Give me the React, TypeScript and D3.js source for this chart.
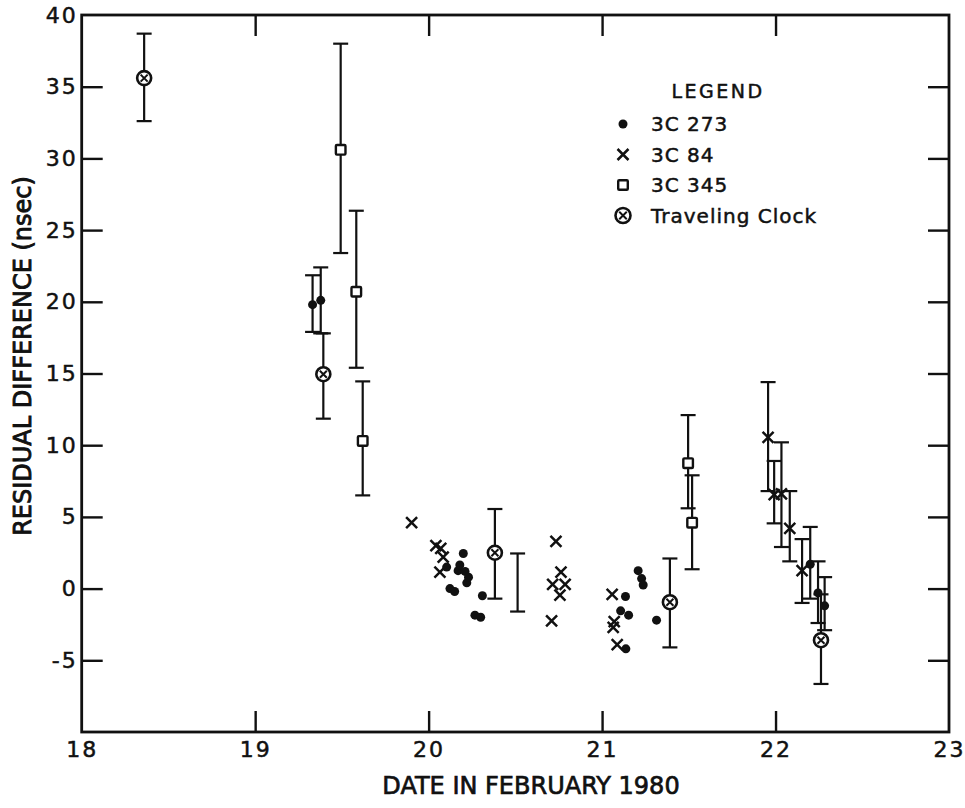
import React, { useEffect, useRef } from 'react';
import * as d3 from 'd3';

// [date, residual, lower error, upper error]  (null = no error bar)
type Obs = [number, number, number | null, number | null];

const src3C273: Obs[] = [
  [19.331, 19.8, 17.9, 21.85],
  [19.378, 20.1, 17.8, 22.4],
  [20.104, 1.5, null, null],
  [20.123, 0.0, null, null],
  [20.15, -0.2, null, null],
  [20.17, 1.25, null, null],
  [20.18, 1.65, null, null],
  [20.2, 2.45, null, null],
  [20.21, 1.2, null, null],
  [20.22, 0.4, null, null],
  [20.23, 0.8, null, null],
  [20.267, -1.85, null, null],
  [20.3, -2.0, null, null],
  [20.31, -0.5, null, null],
  [21.107, -1.55, null, null],
  [21.135, -0.55, null, null],
  [21.137, -4.2, null, null],
  [21.153, -1.85, null, null],
  [21.208, 1.25, null, null],
  [21.228, 0.7, null, null],
  [21.237, 0.25, null, null],
  [21.314, -2.2, null, null],
  [22.2, 1.7, -0.7, 4.3],
  [22.245, -0.3, -2.4, 1.9],
  [22.283, -1.2, -2.9, 0.8],
];

const src3C84: Obs[] = [
  [19.902, 4.6, null, null],
  [20.042, 3.0, null, null],
  [20.065, 1.15, null, null],
  [20.07, 2.8, null, null],
  [20.084, 2.2, null, null],
  [20.709, -2.25, null, null],
  [20.715, 0.3, null, null],
  [20.734, 3.3, null, null],
  [20.757, -0.45, null, null],
  [20.763, 1.15, null, null],
  [20.787, 0.3, null, null],
  [21.058, -0.4, null, null],
  [21.064, -2.7, null, null],
  [21.07, -2.3, null, null],
  [21.087, -3.9, null, null],
  [21.957, 10.55, 6.8, 14.4],
  [21.992, 6.55, 4.55, 8.9],
  [22.034, 6.6, 2.9, 10.2],
  [22.082, 4.2, 1.9, 6.8],
  [22.153, 1.25, -1.0, 3.45],
];

const src3C345: Obs[] = [
  [19.493, 30.6, 23.4, 38.0],
  [19.583, 20.7, 15.4, 26.35],
  [19.62, 10.3, 6.5, 14.45],
  [21.496, 8.75, 5.6, 12.1],
  [21.519, 4.6, 1.35, 7.9],
];

const travelingClock: Obs[] = [
  [18.36, 35.6, 32.6, 38.7],
  [19.393, 14.95, 11.85, 17.8],
  [20.382, 2.5, -0.7, 5.55],
  [21.391, -0.95, -4.1, 2.1],
  [22.262, -3.6, -6.65, -0.4],
];

// bare error bar without a marker
const bareBars: Obs[] = [[20.513, 0.4, -1.6, 2.45]];

const xTicks = [18, 19, 20, 21, 22, 23];
const yTicks = [-5, 0, 5, 10, 15, 20, 25, 30, 35, 40];

const legendItems = ['3C 273', '3C 84', '3C 345', 'Traveling Clock'];

const FONT = '"DejaVu Sans", sans-serif';

export default function App() {
  const svgRef = useRef<SVGSVGElement>(null);

  useEffect(() => {
    if (!svgRef.current) return;
    const svg = d3.select(svgRef.current);
    svg.selectAll('*').remove();

    const x = d3.scaleLinear().domain([18, 23]).range([81.7, 949]);
    const y = d3.scaleLinear().domain([-10, 40]).range([732, 15]);
    const [x0, x1] = x.range();
    const [y0, y1] = y.range();

    const g = svg.append('g');

    // inner ticks on all four sides
    const innerX = xTicks.filter(t => t > 18 && t < 23);
    const innerY = yTicks.filter(t => t > -10 && t < 40);
    const tl = 21;

    const bottom = g.append('g')
      .attr('transform', `translate(0,${y0})`)
      .call(d3.axisBottom(x).tickValues(xTicks).tickSize(-tl).tickPadding(9).tickFormat(d => `${d}`));
    bottom.selectAll('.tick line').filter((d: any) => !innerX.includes(d)).remove();

    const top = g.append('g')
      .attr('transform', `translate(0,${y1})`)
      .call(d3.axisTop(x).tickValues(innerX).tickSize(-tl).tickFormat(() => ''));

    const left = g.append('g')
      .attr('transform', `translate(${x0},0)`)
      .call(d3.axisLeft(y).tickValues(yTicks).tickSize(-tl).tickPadding(4).tickFormat(d => `${d}`));
    left.selectAll('.tick line').filter((d: any) => !innerY.includes(d)).remove();

    const right = g.append('g')
      .attr('transform', `translate(${x1},0)`)
      .call(d3.axisRight(y).tickValues(innerY).tickSize(-tl).tickFormat(() => ''));

    [bottom, top, left, right].forEach(a => {
      a.select('.domain').remove();
      a.selectAll('.tick line').attr('stroke', '#111').attr('stroke-width', 2.4);
      a.selectAll('text')
        .attr('font-family', FONT)
        .attr('font-size', 22)
        .attr('letter-spacing', 2)
        .attr('stroke', '#111').attr('stroke-width', 0.5)
        .attr('fill', '#111');
    });

    g.append('rect')
      .attr('x', x0).attr('y', y1)
      .attr('width', x1 - x0).attr('height', y0 - y1)
      .attr('fill', 'none').attr('stroke', '#111').attr('stroke-width', 2.8);

    // axis titles
    g.append('text')
      .attr('transform', `translate(31,356) rotate(-90)`)
      .attr('text-anchor', 'middle')
      .attr('font-family', FONT).attr('font-size', 24)
      .attr('stroke', '#111').attr('stroke-width', 0.9)
      .attr('fill', '#111')
      .text('RESIDUAL DIFFERENCE (nsec)');

    g.append('text')
      .attr('x', 531).attr('y', 794)
      .attr('text-anchor', 'middle')
      .attr('font-family', FONT).attr('font-size', 24)
      .attr('stroke', '#111').attr('stroke-width', 0.7)
      .attr('fill', '#111')
      .text('DATE IN FEBRUARY 1980');

    // error bars
    const cap = 7.5;
    const allObs = [...src3C273, ...src3C84, ...src3C345, ...travelingClock, ...bareBars]
      .filter(o => o[2] !== null && o[3] !== null);
    const eb = g.append('g').attr('stroke', '#111').attr('stroke-width', 2.2).attr('fill', 'none');
    allObs.forEach(o => {
      const cx = x(o[0]);
      const lo = y(o[2] as number);
      const hi = y(o[3] as number);
      eb.append('line').attr('x1', cx).attr('x2', cx).attr('y1', lo).attr('y2', hi);
      eb.append('line').attr('x1', cx - cap).attr('x2', cx + cap).attr('y1', lo).attr('y2', lo);
      eb.append('line').attr('x1', cx - cap).attr('x2', cx + cap).attr('y1', hi).attr('y2', hi);
    });

    // marker drawers
    const drawDot = (sel: any, cx: number, cy: number) =>
      sel.append('circle').attr('cx', cx).attr('cy', cy).attr('r', 4.5).attr('fill', '#111');
    const drawCross = (sel: any, cx: number, cy: number) => {
      const s = 5.5;
      sel.append('path')
        .attr('d', `M${cx - s},${cy - s}L${cx + s},${cy + s}M${cx - s},${cy + s}L${cx + s},${cy - s}`)
        .attr('stroke', '#111').attr('stroke-width', 2.5).attr('fill', 'none');
    };
    const drawSquare = (sel: any, cx: number, cy: number) =>
      sel.append('rect').attr('x', cx - 4.8).attr('y', cy - 4.8).attr('width', 9.6).attr('height', 9.6)
        .attr('rx', 1).attr('fill', '#fff').attr('stroke', '#111').attr('stroke-width', 2.4);
    const drawClock = (sel: any, cx: number, cy: number, r = 7) => {
      sel.append('circle').attr('cx', cx).attr('cy', cy).attr('r', r)
        .attr('fill', '#fff').attr('stroke', '#111').attr('stroke-width', 2.6);
      const s = r * 0.5;
      sel.append('path')
        .attr('d', `M${cx - s},${cy - s}L${cx + s},${cy + s}M${cx - s},${cy + s}L${cx + s},${cy - s}`)
        .attr('stroke', '#111').attr('stroke-width', 2).attr('fill', 'none');
    };

    const marks = g.append('g');
    src3C84.forEach(o => drawCross(marks, x(o[0]), y(o[1])));
    src3C273.forEach(o => drawDot(marks, x(o[0]), y(o[1])));
    src3C345.forEach(o => drawSquare(marks, x(o[0]), y(o[1])));
    travelingClock.forEach(o => drawClock(marks, x(o[0]), y(o[1])));

    // legend
    const lg = g.append('g');
    lg.append('text')
      .attr('x', 718).attr('y', 98)
      .attr('text-anchor', 'middle')
      .attr('font-family', FONT).attr('font-size', 19)
      .attr('letter-spacing', 2.5)
      .attr('stroke', '#111').attr('stroke-width', 0.5)
      .attr('fill', '#111')
      .text('LEGEND');
    const drawers = [drawDot, drawCross, drawSquare, (s: any, cx: number, cy: number) => drawClock(s, cx, cy, 7.5)];
    legendItems.forEach((label, i) => {
      const by = 131 + i * 30.5;
      drawers[i](lg, 623, by - 7);
      lg.append('text')
        .attr('x', 651).attr('y', by)
        .attr('font-family', FONT).attr('font-size', 20)
        .attr('letter-spacing', 1)
        .attr('stroke', '#111').attr('stroke-width', 0.5)
        .attr('fill', '#111')
        .text(label);
    });
  }, []);

  return (
    <div style={{ position: 'absolute', left: 0, top: 0 }}>
      <svg ref={svgRef} width={965} height={808} style={{ display: 'block', background: '#fff' }} />
    </div>
  );
}
